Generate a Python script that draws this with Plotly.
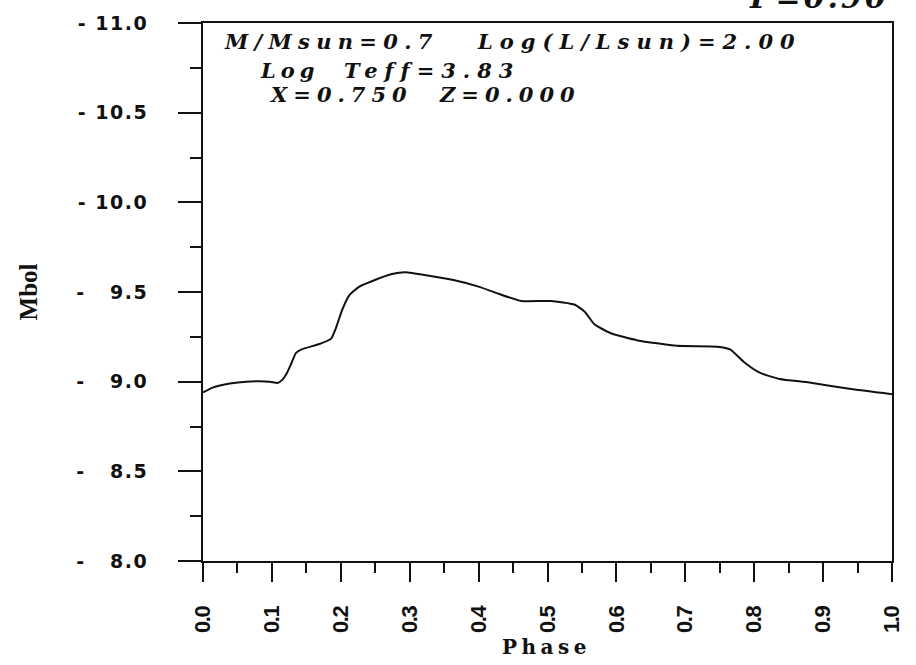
import plotly.graph_objects as go

# Bolometric light curve over one pulsation cycle
phase = [0.0, 0.014, 0.039, 0.063, 0.097, 0.108, 0.115, 0.122, 0.128, 0.135,
         0.143, 0.169, 0.186, 0.193, 0.202, 0.212, 0.227, 0.245, 0.274, 0.294,
         0.328, 0.365, 0.40, 0.429, 0.462, 0.505, 0.539, 0.554, 0.568, 0.592,
         0.631, 0.688, 0.746, 0.765, 0.785, 0.808, 0.837, 0.880, 0.938, 1.0]
mbol = [-8.94, -8.967, -8.99, -9.0, -9.0, -8.993, -9.01, -9.05, -9.10, -9.16,
        -9.18, -9.21, -9.24, -9.30, -9.40, -9.48, -9.53, -9.56, -9.60, -9.61,
        -9.59, -9.565, -9.53, -9.49, -9.45, -9.45, -9.43, -9.39, -9.32, -9.27,
        -9.23, -9.20, -9.195, -9.18, -9.11, -9.05, -9.015, -8.995, -8.96, -8.93]

x_tick_vals = [0.0, 0.1, 0.2, 0.3, 0.4, 0.5, 0.6, 0.7, 0.8, 0.9, 1.0]
x_tick_text = ["0.0", "0.1", "0.2", "0.3", "0.4", "0.5", "0.6", "0.7", "0.8", "0.9", "1.0"]
y_tick_vals = [-11.0, -10.5, -10.0, -9.5, -9.0, -8.5, -8.0]
y_tick_text = ["- 11.0", "- 10.5", "- 10.0", "-   9.5", "-   9.0", "-   8.5", "-   8.0"]

# model parameter block: text, paper x (left edge), paper y (centre), letter spacing
model_params = [
    ("M/Msun=0.7", 0.0274, 0.965, 6.3),
    ("Log(L/Lsun)=2.00", 0.395, 0.965, 7),
    ("Log", 0.0794, 0.912, 5),
    ("Teff=3.83", 0.202, 0.912, 7),
    ("X=0.750", 0.0924, 0.868, 6),
    ("Z=0.000", 0.340, 0.868, 6),
]
period_label = "P=0.90"


def spaced(text, px):
    return '<span style="letter-spacing:%gpx">%s</span>' % (px, text.replace(" ", "\u00a0"))


fig = go.Figure()
fig.add_trace(go.Scatter(
    x=phase, y=mbol, mode="lines",
    line=dict(color="#111111", width=2, shape="spline", smoothing=0.5),
    hoverinfo="skip", showlegend=False,
))

serif_bi = dict(family="DejaVu Serif", size=21, color="#111111", weight="bold", style="italic")

annotations = []
for text, ax, ay, ls in model_params:
    annotations.append(dict(
        text=spaced(text, ls), x=ax, y=ay, xref="paper", yref="paper",
        xanchor="left", yanchor="middle", showarrow=False, font=serif_bi,
    ))
annotations.append(dict(
    text=spaced(period_label, 3), x=0.9986, y=1.011, xref="paper", yref="paper",
    xanchor="right", yanchor="bottom", showarrow=False,
    font=dict(serif_bi, size=30),
))
annotations.append(dict(
    text=spaced("Phase", 4.5), x=0.498, y=-0.16, xref="paper", yref="paper",
    xanchor="center", yanchor="middle", showarrow=False,
    font=dict(family="DejaVu Serif", size=20, color="#111111", weight="bold"),
))
annotations.append(dict(
    text="Mbol", x=-0.254, y=0.501, xref="paper", yref="paper",
    xanchor="center", yanchor="middle", textangle=-90, showarrow=False,
    font=dict(family="Liberation Serif", size=25, color="#111111", weight="bold"),
))

fig.update_layout(
    width=916, height=665,
    margin=dict(l=203, r=20, t=16, b=104),
    paper_bgcolor="white", plot_bgcolor="white",
    annotations=annotations,
)

fig.update_xaxes(
    range=[0, 1], showgrid=False, zeroline=False,
    showline=True, linewidth=2, linecolor="#111111", mirror=True,
    ticks="outside", ticklen=19, tickwidth=2, tickcolor="#111111",
    tickvals=x_tick_vals, ticktext=[spaced(t, -1.5) for t in x_tick_text], tickangle=-90,
    ticklabelstandoff=16,
    tickfont=dict(family="Liberation Sans", size=22, color="#111111", weight="bold"),
    minor=dict(dtick=0.05, ticks="outside", ticklen=10, tickwidth=2, tickcolor="#111111"),
)
fig.update_yaxes(
    range=[-8, -11], showgrid=False, zeroline=False,
    showline=True, linewidth=2, linecolor="#111111", mirror=True,
    ticks="outside", ticklen=23, tickwidth=2, tickcolor="#111111",
    tickvals=y_tick_vals, ticktext=[spaced(t, 1.5) for t in y_tick_text],
    ticklabelstandoff=26,
    tickfont=dict(family="DejaVu Sans", size=19, color="#111111", weight="bold"),
    minor=dict(dtick=0.25, ticks="outside", ticklen=11, tickwidth=2, tickcolor="#111111"),
)

fig.write_html("out.html")
